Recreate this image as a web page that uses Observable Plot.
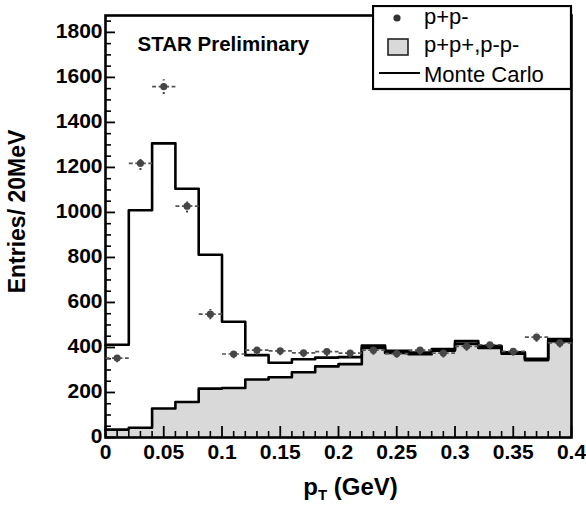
<!DOCTYPE html>
<html><head><meta charset="utf-8">
<script src="https://cdn.jsdelivr.net/npm/d3@7"></script>
<script src="https://cdn.jsdelivr.net/npm/@observablehq/plot@0.6"></script>
<style>
body{margin:0;background:#fff;}
#wrap{position:relative;width:586px;height:510px;overflow:hidden;}
#legend{position:absolute;left:372px;top:5px;}
</style></head><body><div id="wrap"></div>
<script>
// bin edges (GeV)
const binLeft  = [0,0.02,0.04,0.06,0.08,0.10,0.12,0.14,0.16,0.18,0.20,0.22,0.24,0.26,0.28,0.30,0.32,0.34,0.36,0.38];
const binRight = [0.02,0.04,0.06,0.08,0.10,0.12,0.14,0.16,0.18,0.20,0.22,0.24,0.26,0.28,0.30,0.32,0.34,0.36,0.38,0.40];
// Monte Carlo histogram
const monteCarlo = [412,1010,1307,1105,812,514,366,332,348,355,357,408,385,378,393,428,406,379,350,437];
// like-sign pairs p+p+, p-p- (shaded)
const likeSign = [35,43,129,158,217,220,258,268,290,316,326,398,376,370,386,416,398,372,344,428];
// unlike-sign pairs p+p- (points)
const unlikeSign = [353,1218,1559,1028,548,371,388,385,376,382,375,388,373,388,375,405,412,383,446,420];
const unlikeErr  = [19,30,33,28,23,19,20,20,19,20,19,20,19,20,19,20,20,20,21,20];
// axes
const xTicks = [0,0.05,0.1,0.15,0.2,0.25,0.3,0.35,0.4];
const xTickLabels = ["0","0.05","0.1","0.15","0.2","0.25","0.3","0.35","0.4"];
const yTicks = [0,200,400,600,800,1000,1200,1400,1600,1800];
const yTickLabels = ["0","200","400","600","800","1000","1200","1400","1600","1800"];
const xMinor = d3.range(0, 41).map(i => i/100).filter(v => Math.round(v*100) % 5 !== 0);
const yMinor = d3.range(0, 1875, 50).filter(v => v % 200 !== 0);

const idx = d3.range(binLeft.length);
const stepData = vals => idx.map(i => ({x: binLeft[i], y: vals[i]})).concat([{x: binRight[binRight.length-1], y: vals[vals.length-1]}]);
const likeStep = stepData(likeSign);
const mcStep = stepData(monteCarlo);
const center = i => (binLeft[i] + binRight[i]) / 2;

const W = 586, H = 510, mL = 105, mR = 15, mT = 15, mB = 73;
const pw = W - mL - mR, ph = H - mT - mB;
const font = "'Liberation Sans', Arial, Helvetica, sans-serif";

const chart = Plot.plot({
  width: W, height: H,
  marginLeft: mL, marginRight: mR, marginTop: mT, marginBottom: mB,
  x: {domain: [0, 0.4]},
  y: {domain: [0, 1875]},
  style: {fontFamily: font, background: "white", color: "black", overflow: "visible"},
  marks: [
    Plot.areaY(likeStep, {x: "x", y: "y", curve: "step-after", fill: "#d9d9d9"}),
    Plot.lineY(likeStep, {x: "x", y: "y", curve: "step-after", stroke: "black", strokeWidth: 2.6}),
    Plot.lineY(mcStep, {x: "x", y: "y", curve: "step-after", stroke: "black", strokeWidth: 2.6}),
    // ticks inside frame
    Plot.tickY(yTicks, {y: d => d, insetRight: pw - 10, stroke: "black", strokeWidth: 1.8}),
    Plot.tickY(yMinor, {y: d => d, insetRight: pw - 6, stroke: "black", strokeWidth: 1.6}),
    Plot.tickX(xTicks, {x: d => d, insetTop: ph - 11, stroke: "black", strokeWidth: 1.8}),
    Plot.tickX(xMinor, {x: d => d, insetTop: ph - 6, stroke: "black", strokeWidth: 1.6}),
    Plot.axisX({ticks: xTicks, tickSize: 0, tickPadding: 7, label: null, fontSize: 21, fontWeight: "bold",
      tickFormat: d => xTickLabels[xTicks.indexOf(d)]}),
    Plot.axisY({ticks: yTicks, tickSize: 0, tickPadding: 3, label: null, fontSize: 21, fontWeight: "bold", dy: -1,
      tickFormat: d => yTickLabels[yTicks.indexOf(d)]}),
    Plot.frame({stroke: "black", strokeWidth: 2.6}),
    // error bars
    Plot.link(idx, {x1: i => binLeft[i], x2: i => binRight[i], y1: i => unlikeSign[i], y2: i => unlikeSign[i],
      stroke: "#555", strokeWidth: 1.7, strokeDasharray: "4,2.5"}),
    Plot.link(idx, {x1: center, x2: center, y1: i => unlikeSign[i] - unlikeErr[i], y2: i => unlikeSign[i] + unlikeErr[i],
      stroke: "#444", strokeWidth: 2, strokeDasharray: "2,2.5"}),
    Plot.dot(idx, {x: center, y: i => unlikeSign[i], r: 3.6, fill: "#464646", stroke: "none"}),
    // texts
    Plot.text(["STAR Preliminary"], {frameAnchor: "top-left", dx: 32, dy: 29, textAnchor: "start", lineAnchor: "middle",
      fontSize: 20.5, fontWeight: "bold", fill: "black"}),
    Plot.text(["Entries/ 20MeV"], {frameAnchor: "left", dx: -88, dy: -15, rotate: -90, textAnchor: "middle", lineAnchor: "middle",
      fontSize: 23, fontWeight: "bold", fill: "black"}),
    Plot.text(["pT (GeV)"], {frameAnchor: "bottom", dx: 12, dy: 50, textAnchor: "middle", lineAnchor: "middle",
      fontSize: 24, fontWeight: "bold", fill: "black"})
  ]
});

document.getElementById("wrap").appendChild(chart);

// subscript T in x label
d3.select(chart).selectAll("text").filter(function() { return this.textContent === "pT (GeV)"; })
  .each(function() {
    const t = d3.select(this);
    t.text(null);
    t.append("tspan").text("p");
    t.append("tspan").attr("font-size", 15).attr("dy", 5).text("T");
    t.append("tspan").attr("dy", -5).text(" (GeV)");
  });

// legend box (overlapping top-right of frame)
const legend = d3.select("#wrap").append("svg").attr("id", "legend")
  .attr("width", 201).attr("height", 86)
  .style("font-family", font);
legend.append("rect").attr("x", 1).attr("y", 1).attr("width", 198).attr("height", 83)
  .attr("fill", "white").attr("stroke", "black").attr("stroke-width", 2.2);
const lx = 372, ly = 5;
legend.append("circle").attr("cx", 397 - lx).attr("cy", 18 - ly).attr("r", 3.6).attr("fill", "#333");
legend.append("rect").attr("x", 388 - lx).attr("y", 39 - ly).attr("width", 20).attr("height", 16)
  .attr("fill", "#d9d9d9").attr("stroke", "#222").attr("stroke-width", 1.6);
legend.append("line").attr("x1", 379 - lx).attr("x2", 420 - lx).attr("y1", 73 - ly).attr("y2", 73 - ly)
  .attr("stroke", "black").attr("stroke-width", 1.8);
const entries = [["p+p-", 24], ["p+p+,p-p-", 52], ["Monte Carlo", 82]];
entries.forEach(([label, base]) => {
  legend.append("text").attr("x", 424 - lx).attr("y", base - ly).attr("font-size", 22).attr("fill", "black").text(label);
});
</script>
</body></html>
